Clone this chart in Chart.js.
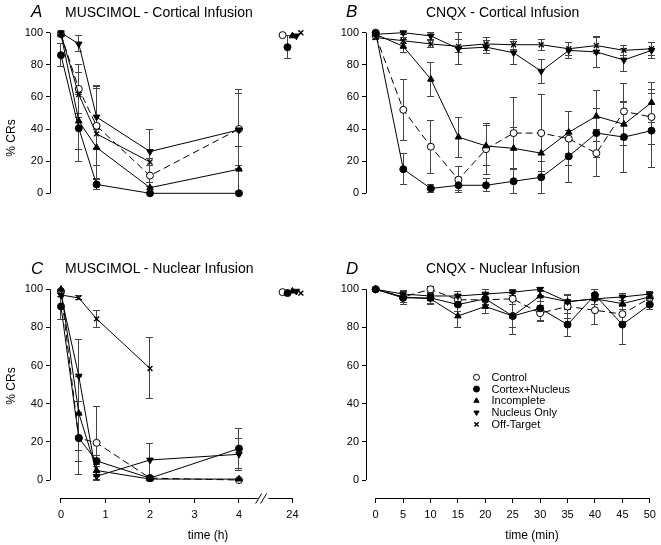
<!DOCTYPE html>
<html>
<head>
<meta charset="utf-8">
<script src="https://cdn.jsdelivr.net/npm/chart.js@4.4.1/dist/chart.umd.min.js"></script>
<style>
  body { margin:0; background:#fff; font-family:"Liberation Sans", Arial, sans-serif; }
  #fig { position:relative; width:661px; height:545px; overflow:hidden; }
  .pane { position:absolute; }
  .txt { position:absolute; white-space:nowrap; color:#000; line-height:1; }
  .letter { font-size:17px; font-style:italic; }
  .title { font-size:14px; }
  .axt { font-size:12px; transform:translate(-50%,-50%); }
  .ylab { font-size:12px; transform:translate(-50%,-50%) rotate(-90deg); }
</style>
</head>
<body>
<div id="fig">
  <div class="pane" style="left:0;top:0;width:330px;height:240px;"><canvas id="chartA"></canvas></div>
  <div class="pane" style="left:330px;top:0;width:331px;height:240px;"><canvas id="chartB"></canvas></div>
  <div class="pane" style="left:0;top:240px;width:330px;height:305px;"><canvas id="chartC"></canvas></div>
  <div class="pane" style="left:330px;top:240px;width:331px;height:305px;"><canvas id="chartD"></canvas></div>

  <div class="txt letter" style="left:31px;top:3px;">A</div>
  <div class="txt title" style="left:65px;top:5px;">MUSCIMOL - Cortical Infusion</div>
  <div class="txt letter" style="left:346px;top:3px;">B</div>
  <div class="txt title" style="left:426px;top:5px;">CNQX - Cortical Infusion</div>
  <div class="txt letter" style="left:31px;top:260px;">C</div>
  <div class="txt title" style="left:65px;top:261px;">MUSCIMOL - Nuclear Infusion</div>
  <div class="txt letter" style="left:346px;top:260px;">D</div>
  <div class="txt title" style="left:426px;top:261px;">CNQX - Nuclear Infusion</div>

  <div class="txt ylab" style="left:11px;top:138px;">% CRs</div>
  <div class="txt ylab" style="left:11px;top:386px;">% CRs</div>
  <div class="txt axt" style="left:208px;top:535px;">time (h)</div>
  <div class="txt axt" style="left:532px;top:535px;">time (min)</div>
</div>

<script>
// ---- data ----
const groups = ['Control', 'Cortex+Nucleus', 'Incomplete', 'Nucleus Only', 'Off-Target'];
const hours = [0, 0.4, 0.8, 2, 4, 24];
const minutes = [0, 5, 10, 15, 20, 25, 30, 35, 40, 45, 50];
const hourTicks = [0, 1, 2, 3, 4, 24];
const minuteTicks = [0, 5, 10, 15, 20, 25, 30, 35, 40, 45, 50];
const yTicks = [0, 20, 40, 60, 80, 100];

// A: muscimol, cortical infusion (rows follow groups)
const muscCortMean = [
  [99, 65, 42, 11, 40, 98.5],
  [86, 40.5, 5.5, 0, 0, 91],
  [99, 45, 28.5, 3.5, 15, 98],
  [100, 93, 47.5, 26, 39.5, 98],
  [99, 61.5, 37, 19.5, null, 100],
];
const muscCortErr = [
  [1, 15, 24.5, 6.5, 24.5, 0],
  [7, 21, 3, 0, 0, 7],
  [1, 18, 11, 3.5, 14, 0],
  [0, 5, 19.5, 14, 22.5, 0],
  [1, 14, 28, 2, null, 0],
];

// B: CNQX, cortical infusion
const cnqxCortMean = [
  [98, 52, 29, 8.5, 27.5, 37.5, 37.5, 34, 25, 51, 47.5],
  [100, 15, 3, 5, 5, 7.5, 10, 23, 37.5, 35, 39],
  [99, 91.5, 71, 35, 29.5, 28, 25, 38, 48, 43, 56.5],
  [99, 100, 98, 90, 91, 87.5, 76, 89, 88, 83, 89],
  [97, 95, 93, 91.5, 93, 92.5, 92.5, 90, 92, 89, 90],
];
const cnqxCortErr = [
  [1, 19, 16.5, 8, 16, 22, 24, 17, 14.5, 17.5, 17],
  [0, 9.5, 2.5, 3, 4, 7.5, 10, 16, 15, 22, 23],
  [1, 4, 10.5, 12.5, 12.5, 13, 13, 13, 16, 13.5, 12.5],
  [1, 1, 2, 10, 4, 7, 7.5, 5, 9.5, 7, 5],
  [1, 2, 2, 4, 4, 3, 3.5, 4, 5, 3, 4],
];

// C: muscimol, nuclear infusion
const muscNucMean = [
  [99, 22, 19.5, 1, 0, 98.5],
  [91, 22, 10, 1, 16.5, 98],
  [100, 35, 5, 0.5, 0.5, 99],
  [97, 54.5, 2, 10.5, 13.5, 99],
  [97, 95.5, 84.5, 58.5, null, 98],
];
const muscNucErr = [
  [1, 19, 19, 1, 0.5, 0],
  [7, 12.5, 3, 1, 10.5, 0],
  [0, 19.5, 3, 0.5, 0.5, 0],
  [1, 19, 2, 8.5, 8.3, 0],
  [1, 1, 4.5, 16, null, 0],
];

// D: CNQX, nuclear infusion (no off-target group)
const cnqxNucMean = [
  [100, 96, 100, 94.5, 94.5, 95, 87.5, 91, 89, 87, 95.5],
  [100, 95.5, 95.5, 92, 95, 86, 90, 81.5, 97, 81.5, 92],
  [100, 96, 95, 86, 91, 86, 96.5, 93.5, 95, 92.5, 96],
  [100, 97.5, 96.5, 96.5, 97.5, 98.5, 100, 93.5, 95, 96, 97.5],
  null,
];
const cnqxNucErr = [
  [0, 3, 1.5, 3, 3, 3, 4, 6.5, 7.7, 4, 2.5],
  [0, 3.5, 3, 3.5, 3, 9.7, 7, 6, 3, 10.5, 2.5],
  [0, 3, 3, 6, 3.5, 6, 3, 4, 3, 3, 2],
  [0, 2, 2, 2.5, 2.5, 1.5, 1, 3.5, 3, 2, 1.5],
  null,
];

// ---- styling ----
const FONT = 'Liberation Sans';
const BREAK = 5.2;            // where 24 h sits on the broken hour axis
const dodge24 = [-0.22, -0.11, 0, 0.09, 0.19];
const marks = [
  { pointStyle: 'circle',   rotation: 0,   fill: '#fff', radius: 3.5, bw: 1 },
  { pointStyle: 'circle',   rotation: 0,   fill: '#000', radius: 3.5, bw: 1 },
  { pointStyle: 'triangle', rotation: 0,   fill: '#000', radius: 3.8, bw: 1 },
  { pointStyle: 'triangle', rotation: 180, fill: '#000', radius: 3.8, bw: 1 },
  { pointStyle: 'crossRot', rotation: 0,   fill: '#000', radius: 3.5, bw: 1.4 },
];

const hourPos = (t, i) => (t > 4 ? BREAK + dodge24[i] : t);

function makeDatasets(xs, means, errs, xmap, broken) {
  const out = [];
  groups.forEach((g, i) => {
    if (!means[i]) return;
    const pts = [];
    xs.forEach((t, j) => {
      if (means[i][j] === null) return;
      pts.push({ x: xmap(t, i), y: means[i][j], e: errs[i][j] });
    });
    const m = marks[i];
    const ds = {
      label: g,
      data: pts,
      order: i === 0 ? 10 : 5 - i,
      showLine: true,
      clip: false,
      borderColor: '#000',
      borderWidth: 1,
      borderDash: i === 0 ? [7, 4] : [],
      pointStyle: m.pointStyle,
      pointRotation: m.rotation,
      pointRadius: m.radius,
      pointHoverRadius: m.radius,
      pointBackgroundColor: m.fill,
      pointBorderColor: '#000',
      pointBorderWidth: m.bw,
    };
    // no line across the axis break (4 h -> 24 h)
    if (broken) ds.segment = { borderColor: c => (c.p1.parsed.x > 4.5 ? 'rgba(0,0,0,0)' : '#000') };
    out.push(ds);
  });
  return out;
}

const align = p => Math.round(p - 0.5) + 0.5;

const errorBars = {
  id: 'errorBars',
  beforeDatasetsDraw(chart) {
    const { ctx, scales: { x, y } } = chart;
    ctx.save();
    ctx.strokeStyle = '#444';
    ctx.lineWidth = 1;
    chart.data.datasets.forEach(ds => {
      ds.data.forEach(p => {
        if (!p.e) return;
        const px = align(x.getPixelForValue(p.x));
        const top = y.getPixelForValue(p.y + p.e);
        const bot = y.getPixelForValue(p.y - p.e);
        ctx.beginPath();
        ctx.moveTo(px, top); ctx.lineTo(px, bot);
        ctx.moveTo(px - 3.5, align(top)); ctx.lineTo(px + 3.5, align(top));
        ctx.moveTo(px - 3.5, align(bot)); ctx.lineTo(px + 3.5, align(bot));
        ctx.stroke();
      });
    });
    ctx.restore();
  },
};

const axisLines = {
  id: 'axisLines',
  afterDraw(chart, args, opts) {
    const { ctx, scales: { x, y }, chartArea } = chart;
    ctx.save();
    ctx.strokeStyle = '#000';
    ctx.lineWidth = 1;
    ctx.beginPath();
    const lx = align(chartArea.left);
    ctx.moveTo(lx, y.getPixelForValue(100)); ctx.lineTo(lx, y.getPixelForValue(0));
    if (opts.xLine) {
      const by = align(chartArea.bottom);
      if (opts.broken) {
        const b0 = x.getPixelForValue(4.42), b1 = x.getPixelForValue(4.66);
        ctx.moveTo(x.getPixelForValue(0), by); ctx.lineTo(b0, by);
        ctx.moveTo(b1, by); ctx.lineTo(x.getPixelForValue(BREAK), by);
        ctx.moveTo(b0 - 2, by + 5); ctx.lineTo(b0 + 4, by - 5);
        ctx.moveTo(b0 + 3, by + 5); ctx.lineTo(b0 + 9, by - 5);
      } else {
        ctx.moveTo(x.getPixelForValue(opts.from), by); ctx.lineTo(x.getPixelForValue(opts.to), by);
      }
    }
    ctx.stroke();
    ctx.restore();
  },
};

const legendBox = {
  id: 'legendBox',
  afterDraw(chart, args, opts) {
    if (!opts.show) return;
    const { ctx } = chart;
    ctx.save();
    ctx.font = '11px "' + FONT + '"';
    ctx.textBaseline = 'middle';
    groups.forEach((g, i) => {
      const m = marks[i];
      const yy = opts.y + i * 11.75;
      ctx.fillStyle = m.fill;
      ctx.strokeStyle = '#000';
      ctx.lineWidth = m.bw;
      Chart.helpers.drawPoint(ctx, { pointStyle: m.pointStyle, rotation: m.rotation, radius: 3, borderWidth: m.bw }, opts.x, yy);
      ctx.fillStyle = '#000';
      ctx.fillText(g, opts.x + 15, yy + 0.5);
    });
    ctx.restore();
  },
};

function makeChart(id, cfg) {
  const yScale = {
    min: cfg.yMin, max: 100,
    afterFit: s => { s.width = cfg.yWidth; },
    afterBuildTicks: s => { s.ticks = yTicks.map(v => ({ value: v })); },
    grid: { drawOnChartArea: false, drawTicks: true, tickLength: 4, color: '#000' },
    border: { display: false },
    ticks: { color: '#000', padding: 3, font: { family: FONT, size: 11 } },
  };
  const xScale = {
    type: 'linear', min: cfg.xMin, max: cfg.xMax, display: cfg.xShow,
    afterFit: s => { s.height = 30; },
    afterBuildTicks: s => { s.ticks = cfg.xTicks.map(v => ({ value: cfg.xTickPos(v) })); },
    grid: { drawOnChartArea: false, drawTicks: true, tickLength: 5, color: '#000' },
    border: { display: false },
    ticks: {
      color: '#000', padding: 5, maxRotation: 0, autoSkip: false,
      font: { family: FONT, size: 11 },
      callback: (v, i) => String(cfg.xTicks[i]),
    },
  };
  return new Chart(document.getElementById(id), {
    type: 'scatter',
    data: { datasets: cfg.datasets },
    options: {
      responsive: true, maintainAspectRatio: false, animation: false,
      layout: { padding: cfg.padding },
      scales: { x: xScale, y: yScale },
      plugins: {
        legend: { display: false }, tooltip: { enabled: false },
        axisLines: cfg.axis,
        legendBox: cfg.legend || { show: false },
      },
    },
    plugins: [errorBars, axisLines, legendBox],
  });
}

const hourRange = { xMin: -0.247, xMax: 5.708, xTicks: hourTicks, xTickPos: t => (t > 4 ? BREAK : t) };
const minRange = { xMin: -1.76, xMax: 50.63, xTicks: minuteTicks, xTickPos: t => t };

makeChart('chartA', Object.assign({}, hourRange, {
  datasets: makeDatasets(hours, muscCortMean, muscCortErr, hourPos, true),
  yMin: 0, yWidth: 50, xShow: false,
  padding: { left: 0, right: 15, top: 32.7, bottom: 16.7 },
  axis: { xLine: false },
}));

makeChart('chartB', Object.assign({}, minRange, {
  datasets: makeDatasets(minutes, cnqxCortMean, cnqxCortErr, t => t, false),
  yMin: 0, yWidth: 36, xShow: false,
  padding: { left: 0, right: 6, top: 32.7, bottom: 16.7 },
  axis: { xLine: false },
}));

makeChart('chartC', Object.assign({}, hourRange, {
  datasets: makeDatasets(hours, muscNucMean, muscNucErr, hourPos, true),
  yMin: -9.42, yWidth: 50, xShow: true,
  padding: { left: 0, right: 15, top: 49.3, bottom: 17 },
  axis: { xLine: true, broken: true },
}));

makeChart('chartD', Object.assign({}, minRange, {
  datasets: makeDatasets(minutes, cnqxNucMean, cnqxNucErr, t => t, false),
  yMin: -9.42, yWidth: 36, xShow: true,
  padding: { left: 0, right: 6, top: 49.3, bottom: 17 },
  axis: { xLine: true, from: 0, to: 50 },
  legend: { show: true, x: 146.5, y: 137.3 },
}));
</script>
</body>
</html>
